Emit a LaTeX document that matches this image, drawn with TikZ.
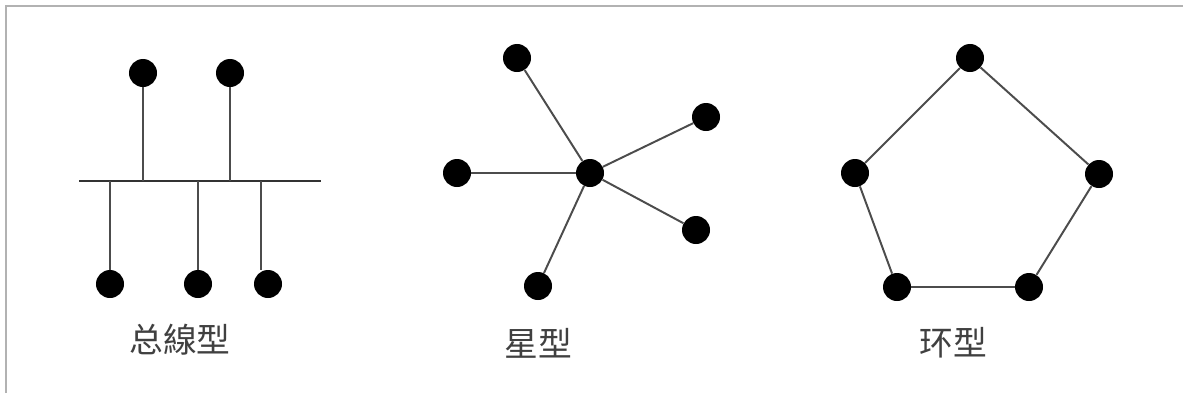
\documentclass[tikz,border=0pt]{standalone}
\usepackage{fontspec}
\setmainfont{Noto Sans CJK SC}
\usepackage{tikz}
\tikzset{dot/.style={circle,fill=black,inner sep=0pt,minimum size=0.7cm},
	link/.style={black!70,line width=1.4pt},
	title/.style={text=black!75,font=\fontsize{24}{28}\selectfont}}

\begin{document}
\begin{tikzpicture}[x=0.025cm,y=-0.025cm]
	%	\draw[help lines] (0,0) grid (1183,395);
	\useasboundingbox (0,0) rectangle (1183,395);
	\draw[black!30,line width=1pt] (6,393) -- (6,6) -- (1183,6);

	% bus
	\coordinate (bl) at (79,181);
	\coordinate (br) at (321,181);
	\draw[link,black!80] (bl) to (br);
	\node[dot] (b1) at (143,73) {};
	\node[dot] (b2) at (230,73) {};
	\node[dot] (b3) at (110,284) {};
	\node[dot] (b4) at (198,284) {};
	\node[dot] (b5) at (268,284) {};
	\coordinate (j5) at (261,181);
	\draw[link] (b1) to (b1 |- bl);
	\draw[link] (b2) to (b2 |- bl);
	\draw[link] (b3) to (b3 |- bl);
	\draw[link] (b4) to (b4 |- bl);
	\draw[link] (j5) to (j5 |- b5.north);
	\node[title] (tb) at (180,340) {总線型};

	% star
	\node[dot] (s0) at (590,173) {};
	\node[dot] (s1) at (517,58) {};
	\node[dot] (s2) at (706,117) {};
	\node[dot] (s3) at (457,173) {};
	\node[dot] (s4) at (696,230) {};
	\node[dot] (s5) at (538,286) {};
	\foreach \i in {1,...,5}
		\draw[link] (s0) to (s\i);
	\node[title] (ts) at (538,343) {星型};

	% ring
	\node[dot] (r1) at (970,58) {};
	\node[dot] (r2) at (1099,174) {};
	\node[dot] (r3) at (1029,287) {};
	\node[dot] (r4) at (897,287) {};
	\node[dot] (r5) at (855,173) {};
	\draw[link] (r1) to (r2);
	\draw[link] (r2) to (r3);
	\draw[link] (r3) to (r4);
	\draw[link] (r4) to (r5);
	\draw[link] (r5) to (r1);
	\node[title] (tr) at (953,343) {环型};
\end{tikzpicture}
\end{document}
